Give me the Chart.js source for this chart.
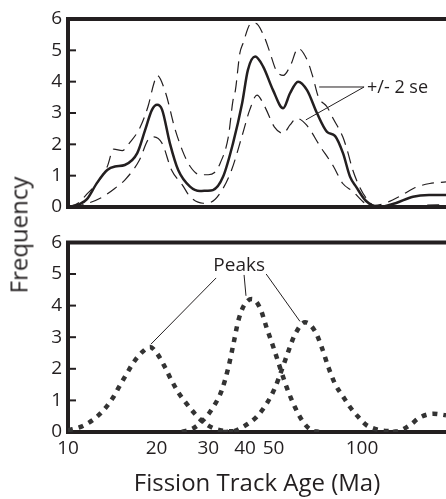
<!DOCTYPE html>
<html>
<head>
<meta charset="utf-8">
<title>Fission Track Age</title>
<script src="https://cdn.jsdelivr.net/npm/chart.js@4.4.0/dist/chart.umd.min.js"></script>
<style>
  html, body { margin: 0; padding: 0; background: #fff; }
  #wrap { position: relative; width: 446px; height: 499px; overflow: hidden; }
  #topChart { position: absolute; left: 0; top: 0; }
  #bottomChart { position: absolute; left: 0; top: 225px; }
  #yTitle {
    position: absolute; left: 18px; top: 235px;
    transform: translate(-50%, -50%) rotate(-90deg);
    font: 24px 'Open Sans', sans-serif; color: #231f20; white-space: nowrap;
  }
</style>
</head>
<body>
<div id="wrap">
  <canvas id="topChart" width="446" height="225"></canvas>
  <canvas id="bottomChart" width="446" height="274"></canvas>
  <div id="yTitle">Frequency</div>
</div>
<script>
/**
 * Distribución de edades de trazas de fisión: curva de densidad (arriba)
 * y picos descompuestos (abajo), eje X logarítmico compartido
 */

// Ejes
const xTicks = [10, 20, 30, 40, 50, 100];
const yTicks = [0, 1, 2, 3, 4, 5, 6];
const xMin = 10;
const xMax = 193;

// Curva de densidad
const pdfAge  = [10, 11, 11.6, 12.55, 13.6, 14.45, 15.6, 17.2, 18.3, 19.3, 20.1, 20.9, 22.2, 23.7, 26.0, 28.1, 29.7, 31.1, 33.7, 36.4, 39.1, 40.9, 43.3, 46.1, 49.8, 53.9, 56.9, 60.6, 65.0, 70.3, 76.0, 80.9, 86.2, 91.0, 95.4, 103, 114, 130, 149, 169, 193];
const pdfFreq = [0, 0.1, 0.25, 0.77, 1.18, 1.29, 1.34, 1.72, 2.46, 3.1, 3.26, 3.1, 2.04, 1.18, 0.65, 0.51, 0.52, 0.54, 0.97, 2.03, 3.31, 4.37, 4.8, 4.48, 3.73, 3.15, 3.63, 4.0, 3.73, 2.99, 2.4, 2.27, 1.71, 0.97, 0.65, 0.2, 0, 0.12, 0.33, 0.38, 0.38];

// Banda +2 se
const upAge  = [10, 10.8, 11.7, 12.55, 13.6, 14.3, 15.3, 16.2, 17.5, 18.7, 19.6, 20.1, 21.5, 23.0, 24.5, 26.0, 28.1, 30.0, 31.5, 32.9, 35.1, 36.4, 37.1, 38.4, 39.3, 42.0, 43.5, 46.5, 48.5, 51.0, 54.0, 57.0, 60.6, 65.0, 68.0, 71.0, 76.0, 80.0, 86.0, 89.0, 93.0, 98.0, 103, 110, 122, 135, 150, 170, 193];
const upFreq = [0, 0.12, 0.45, 0.76, 1.29, 1.85, 1.8, 2.05, 2.5, 3.2, 3.95, 4.2, 3.63, 2.56, 1.8, 1.3, 1.03, 1.03, 1.1, 1.39, 2.24, 3.4, 3.73, 4.9, 5.2, 5.86, 5.86, 5.43, 4.96, 4.37, 4.2, 4.5, 5.06, 4.7, 4.16, 3.52, 3.2, 2.8, 2.24, 1.82, 1.18, 0.65, 0.3, 0.05, 0.15, 0.35, 0.6, 0.75, 0.8];

// Banda -2 se
const loAge  = [10.3, 11.5, 13.0, 14.45, 15.6, 17.5, 18.7, 19.6, 20.9, 22.5, 24.5, 26.0, 28.8, 30.4, 32.9, 36.0, 39.0, 41.5, 43.9, 46.7, 50.3, 54.0, 56.9, 59.9, 64.7, 72.1, 79.9, 86.0, 93.0, 103, 114, 130, 160, 193];
const loFreq = [0, 0.1, 0.3, 0.6, 0.86, 1.5, 2.14, 2.24, 2.03, 1.18, 0.7, 0.33, 0.12, 0.14, 0.44, 1.18, 2.24, 3.1, 3.57, 3.2, 2.56, 2.35, 2.62, 2.83, 2.62, 1.93, 1.3, 0.75, 0.5, 0.1, 0, 0, 0.05, 0.08];

// Picos
const peak1Age  = [10, 11.1, 12.35, 13.35, 14.25, 15.0, 15.8, 16.7, 17.8, 19.0, 20.0, 21.4, 22.5, 23.7, 25.3, 27.0, 28.8, 31.2, 33.7, 36.5];
const peak1Freq = [0.05, 0.17, 0.43, 0.74, 1.1, 1.47, 1.83, 2.2, 2.51, 2.69, 2.51, 2.04, 1.63, 1.26, 0.9, 0.58, 0.32, 0.12, 0.04, 0.02];
const peak2Age  = [24.4, 26.7, 28.8, 31.2, 33.3, 35.1, 36.5, 37.9, 39.5, 42.2, 45.0, 47.4, 50.0, 52.6, 55.4, 59.1, 63.0, 67.2, 71.8];
const peak2Freq = [0, 0.12, 0.37, 0.79, 1.31, 2.04, 2.77, 3.5, 3.97, 4.21, 3.92, 3.29, 2.67, 2.04, 1.42, 0.79, 0.32, 0.06, 0];
const peak3Age  = [33.7, 36.5, 39.5, 43.8, 47.4, 50.7, 53.2, 56.2, 59.1, 64.0, 69.2, 73.0, 76.9, 81.0, 86.5, 91.0, 97.0, 103.5, 115, 127.6];
const peak3Freq = [0, 0.02, 0.17, 0.48, 0.9, 1.42, 1.94, 2.56, 3.08, 3.47, 3.19, 2.67, 2.04, 1.52, 1.1, 0.79, 0.48, 0.22, 0.06, 0.02];
const peak4Age  = [127.6, 135, 145.5, 157.4, 174.6, 193];
const peak4Freq = [0, 0.05, 0.22, 0.46, 0.58, 0.53];

const INK = '#231f20';
const FAMILY = "'Open Sans', 'DejaVu Sans', sans-serif";

function toPoints(ages, freqs) {
    return ages.map((a, i) => ({ x: a, y: freqs[i] }));
}

function curve(ages, freqs, style) {
    return Object.assign({
        data: toPoints(ages, freqs),
        pointRadius: 0,
        fill: false,
        borderColor: INK,
        cubicInterpolationMode: 'monotone'
    }, style);
}

/**
 * Marco grueso (izquierda, arriba, abajo) y marcas cortas hacia dentro
 */
const framePlugin = {
    id: 'frame',
    beforeDatasetsDraw(chart) {
        const { ctx, chartArea: a, scales } = chart;
        ctx.save();
        ctx.strokeStyle = INK;
        ctx.lineWidth = 2;
        yTicks.slice(1, -1).forEach(v => {
            const py = scales.y.getPixelForValue(v);
            ctx.beginPath();
            ctx.moveTo(a.left, py);
            ctx.lineTo(a.left + 8, py);
            ctx.stroke();
        });
        ctx.lineWidth = 4;
        ctx.beginPath();
        ctx.moveTo(a.right + 2, a.top);
        ctx.lineTo(a.left, a.top);
        ctx.lineTo(a.left, a.bottom);
        ctx.lineTo(a.right + 2, a.bottom);
        ctx.stroke();
        ctx.restore();
    }
};

/**
 * Rótulo con líneas guía, posiciones en unidades de datos (edad, frecuencia)
 */
function notes(cfg) {
    return {
        id: 'notes',
        afterDatasetsDraw(chart) {
            const { ctx, scales: { x, y } } = chart;
            ctx.save();
            ctx.strokeStyle = INK;
            ctx.lineWidth = 1;
            cfg.lines.forEach(([a0, f0, a1, f1]) => {
                ctx.beginPath();
                ctx.moveTo(x.getPixelForValue(a0), y.getPixelForValue(f0));
                ctx.lineTo(x.getPixelForValue(a1), y.getPixelForValue(f1));
                ctx.stroke();
            });
            ctx.fillStyle = INK;
            ctx.font = cfg.font;
            ctx.textAlign = cfg.align;
            ctx.textBaseline = 'middle';
            ctx.fillText(cfg.text, x.getPixelForValue(cfg.at[0]), y.getPixelForValue(cfg.at[1]));
            ctx.restore();
        }
    };
}

function yScale() {
    return {
        min: 0,
        max: 6,
        afterBuildTicks: s => { s.ticks = yTicks.map(v => ({ value: v })); },
        afterFit: s => { s.width = 68; },
        grid: { display: false, drawTicks: false },
        border: { display: false },
        ticks: { padding: 6, color: INK, font: { family: FAMILY, size: 19 } }
    };
}

const baseOptions = {
    responsive: false,
    animation: false,
    events: [],
    plugins: { legend: { display: false }, tooltip: { enabled: false } }
};

// Panel superior: densidad con bandas de error
new Chart(document.getElementById('topChart'), {
    type: 'line',
    data: {
        datasets: [
            curve(upAge, upFreq, { borderWidth: 1.2, borderDash: [12, 7] }),
            curve(loAge, loFreq, { borderWidth: 1.2, borderDash: [12, 7] }),
            curve(pdfAge, pdfFreq, { borderWidth: 2.5 })
        ]
    },
    options: Object.assign({}, baseOptions, {
        layout: { padding: { top: 19, bottom: 18, left: 0, right: 0 } },
        scales: {
            x: { type: 'logarithmic', min: xMin, max: xMax, display: false },
            y: yScale()
        }
    }),
    plugins: [framePlugin, notes({
        text: '+/- 2 se', at: [104, 3.8], align: 'left', font: '18px ' + FAMILY,
        lines: [[101.6, 3.83, 71.5, 3.83], [101.6, 3.83, 64.4, 2.78]]
    })]
});

// Panel inferior: picos individuales
const dotted = { borderWidth: 4.5, borderDash: [5, 6], borderColor: '#333' };
new Chart(document.getElementById('bottomChart'), {
    type: 'line',
    data: {
        datasets: [
            curve(peak1Age, peak1Freq, dotted),
            curve(peak2Age, peak2Freq, dotted),
            curve(peak3Age, peak3Freq, dotted),
            curve(peak4Age, peak4Freq, dotted)
        ]
    },
    options: Object.assign({}, baseOptions, {
        layout: { padding: { top: 15, bottom: 0, left: 0, right: 0 } },
        scales: {
            x: {
                type: 'logarithmic',
                min: xMin,
                max: xMax,
                afterBuildTicks: s => { s.ticks = xTicks.map(v => ({ value: v })); },
                afterFit: s => { s.height = 67; },
                grid: { display: false, drawTicks: false },
                border: { display: false },
                ticks: {
                    autoSkip: false, maxRotation: 0, padding: 5, color: INK,
                    font: { family: FAMILY, size: 19 },
                    callback: v => String(v)
                },
                title: {
                    display: true, text: 'Fission Track Age (Ma)', color: INK,
                    font: { family: FAMILY, size: 24 }, padding: { top: 0, bottom: 0 }
                }
            },
            y: yScale()
        }
    }),
    plugins: [framePlugin, notes({
        text: 'Peaks', at: [38.2, 5.28], align: 'center', font: '19px ' + FAMILY,
        lines: [[31.9, 4.875, 19.15, 2.78], [39.7, 4.97, 40.3, 4.31], [47.2, 5.0, 61.5, 3.5]]
    })]
});
</script>
</body>
</html>
